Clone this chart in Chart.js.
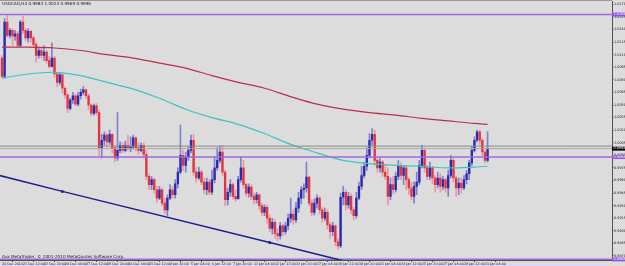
<!DOCTYPE html>
<html>
<head>
<meta charset="utf-8">
<script src="https://cdn.jsdelivr.net/npm/chart.js@4.4.0/dist/chart.umd.min.js"></script>
<style>
  html, body { margin: 0; padding: 0; background: #dcdcdc; overflow: hidden; }
  #wrap { width: 625px; height: 266px; }
</style>
</head>
<body>
<div id="wrap"><canvas id="chart" width="625" height="266"></canvas></div>
<script>
// USDCAD H4, one entry per bar (bar 0 = 20 Dec 2010)
const firstOpen = 1.0106;
const closes = [
  1.0084,1.0149,1.0133,1.0139,1.0132,1.0135,1.0121,1.0149,1.0139,1.0130,
  1.0138,1.0130,1.0122,1.0109,1.0115,1.0109,1.0113,1.0103,1.0096,1.0106,
  1.0087,1.0077,1.0086,1.0070,1.0062,1.0046,1.0056,1.0061,1.0051,1.0061,
  1.0065,1.0068,1.0061,1.0050,1.0040,1.0049,1.0041,0.9999,1.0008,1.0014,
  1.0006,1.0015,0.9999,0.9987,0.9996,1.0002,0.9996,1.0002,0.9999,1.0000,
  1.0011,0.9999,0.9996,1.0002,0.9991,0.9965,0.9955,0.9961,0.9949,0.9939,
  0.9949,0.9933,0.9925,0.9939,0.9949,0.9943,0.9956,0.9970,0.9990,0.9978,
  0.9988,0.9996,1.0008,0.9970,0.9963,0.9970,0.9958,0.9949,0.9958,0.9946,
  0.9961,0.9975,0.9984,0.9994,0.9970,0.9937,0.9946,0.9955,0.9941,0.9938,
  0.9961,0.9975,0.9955,0.9945,0.9952,0.9941,0.9937,0.9943,0.9930,0.9922,
  0.9928,0.9915,0.9903,0.9910,0.9897,0.9894,0.9906,0.9899,0.9906,0.9915,
  0.9920,0.9913,0.9927,0.9939,0.9949,0.9951,0.9964,0.9933,0.9922,0.9933,
  0.9939,0.9925,0.9915,0.9922,0.9907,0.9899,0.9906,0.9887,0.9882,0.9940,
  0.9946,0.9931,0.9941,0.9925,0.9918,0.9939,0.9953,0.9966,0.9977,0.9990,
  1.0008,1.0015,0.9984,0.9975,0.9982,0.9970,0.9965,0.9941,0.9955,0.9949,
  0.9965,0.9977,0.9966,0.9975,0.9961,0.9951,0.9941,0.9953,0.9958,0.9978,
  0.9996,0.9975,0.9965,0.9975,0.9963,0.9955,0.9963,0.9953,0.9961,0.9951,
  0.9966,0.9984,0.9963,0.9951,0.9957,0.9951,0.9961,0.9968,0.9981,0.9996,
  1.0008,1.0018,1.0008,0.9994,0.9984,0.9998
];
const highs = [
  1.0109,1.0153,1.0157,1.0141,1.0141,1.0139,1.0138,1.0151,1.0156,1.0141,
  1.0141,1.0139,1.0132,1.0125,1.0119,1.0118,1.0121,1.0115,1.0108,1.0124,
  1.0108,1.0089,1.0089,1.0087,1.0072,1.0063,1.0058,1.0065,1.0063,1.0065,
  1.0069,1.0072,1.0069,1.0063,1.0051,1.0051,1.0052,1.0044,1.0015,1.0018,
  1.0016,1.0020,1.0016,1.0001,1.0041,1.0006,1.0005,1.0007,1.0014,1.0012,
  1.0014,1.0012,1.0005,1.0005,1.0005,0.9996,0.9968,0.9965,0.9963,0.9953,
  0.9953,0.9951,0.9939,0.9943,0.9955,0.9953,0.9961,0.9975,1.0026,0.9996,
  0.9994,1.0000,1.0014,1.0015,0.9975,0.9976,0.9972,0.9963,0.9963,0.9961,
  0.9972,0.9988,0.9999,1.0001,1.0002,0.9972,0.9951,0.9961,0.9957,0.9949,
  0.9965,0.9988,0.9984,0.9957,0.9956,0.9955,0.9945,0.9946,0.9944,0.9933,
  0.9931,0.9931,0.9919,0.9915,0.9913,0.9903,0.9910,0.9908,0.9910,0.9920,
  0.9939,0.9925,0.9934,0.9946,0.9953,0.9956,0.9982,0.9965,0.9937,0.9938,
  0.9943,0.9941,0.9928,0.9927,0.9925,0.9910,0.9910,0.9907,0.9891,0.9945,
  0.9953,0.9949,0.9946,0.9944,0.9928,0.9946,0.9958,0.9977,0.9982,0.9999,
  1.0016,1.0022,1.0020,0.9987,0.9987,0.9984,0.9978,0.9975,0.9963,0.9965,
  0.9970,0.9984,0.9981,0.9978,0.9977,0.9963,0.9958,0.9958,0.9970,0.9984,
  1.0002,0.9999,0.9978,0.9982,0.9977,0.9966,0.9970,0.9968,0.9965,0.9963,
  0.9972,0.9990,0.9987,0.9965,0.9963,0.9963,0.9966,0.9972,0.9984,1.0001,
  1.0012,1.0020,1.0020,1.0010,0.9996,1.0018
];
const lows = [
  1.0082,1.0082,1.0131,1.0130,1.0121,1.0127,1.0118,1.0119,1.0135,1.0127,
  1.0125,1.0125,1.0119,1.0101,1.0106,1.0106,1.0103,1.0100,1.0094,1.0095,
  1.0083,1.0072,1.0074,1.0064,1.0058,1.0041,1.0044,1.0052,1.0049,1.0049,
  1.0057,1.0062,1.0058,1.0044,1.0037,1.0038,1.0038,0.9990,0.9987,1.0002,
  1.0000,1.0003,0.9993,0.9982,0.9984,0.9993,0.9993,0.9994,0.9996,0.9994,
  0.9997,0.9995,0.9991,0.9994,0.9987,0.9961,0.9949,0.9949,0.9945,0.9934,
  0.9937,0.9930,0.9920,0.9918,0.9937,0.9939,0.9939,0.9951,0.9968,0.9972,
  0.9970,0.9984,0.9993,0.9966,0.9958,0.9961,0.9955,0.9944,0.9943,0.9943,
  0.9943,0.9957,0.9972,0.9981,0.9966,0.9930,0.9931,0.9941,0.9938,0.9935,
  0.9941,0.9958,0.9951,0.9941,0.9940,0.9937,0.9932,0.9933,0.9925,0.9918,
  0.9918,0.9909,0.9899,0.9896,0.9891,0.9888,0.9890,0.9894,0.9896,0.9901,
  0.9910,0.9908,0.9910,0.9922,0.9932,0.9939,0.9946,0.9930,0.9918,0.9919,
  0.9927,0.9920,0.9910,0.9912,0.9902,0.9891,0.9894,0.9882,0.9878,0.9880,
  0.9931,0.9925,0.9927,0.9920,0.9913,0.9915,0.9937,0.9949,0.9963,0.9972,
  0.9987,1.0002,0.9978,0.9970,0.9970,0.9965,0.9961,0.9931,0.9937,0.9944,
  0.9946,0.9961,0.9961,0.9955,0.9949,0.9943,0.9937,0.9933,0.9943,0.9955,
  0.9975,0.9970,0.9961,0.9961,0.9956,0.9946,0.9951,0.9946,0.9949,0.9946,
  0.9941,0.9963,0.9958,0.9941,0.9943,0.9945,0.9949,0.9956,0.9961,0.9978,
  0.9994,1.0006,1.0003,0.9989,0.9981,0.9982
];

// moving averages read at every 10th bar
const maRedBars  = [0, 10, 20, 30, 40, 50, 60, 70, 80, 90, 100, 110, 120, 130, 140, 150, 160, 170, 180, 185];
const maRedVals  = [1.0119,1.0119,1.0118,1.0115,1.0110,1.0106,1.0100,1.0094,1.0085,1.0077,
                    1.0070,1.0060,1.0051,1.0045,1.0041,1.0038,1.0034,1.0031,1.0028,1.0027];
const maCyanBars = [0, 10, 20, 30, 40, 50, 60, 70, 80, 90, 100, 110, 120, 130, 140, 150, 160, 170, 180, 185];
const maCyanVals = [1.0082,1.0087,1.0089,1.0085,1.0077,1.0069,1.0058,1.0045,1.0035,1.0027,
                    1.0016,1.0003,0.9993,0.9984,0.9980,0.9978,0.9977,0.9975,0.9976,0.9977];

// trend line: ends and the two anchor points
const trendBars = [-1, 23, 102, 133];
const trendVals = [0.9966, 0.9947, 0.9886, 0.9862];

const purpleLevels = [1.0158, 0.9988, 0.9866];
const grayLevels = [1.0001, 0.9998];
const bidPrice = 0.9998;

const priceTicks = [1.0170,1.0155,1.0140,1.0125,1.0110,1.0095,1.0080,1.0065,1.0050,1.0035,
                    1.0020,1.0005,0.9990,0.9975,0.9960,0.9945,0.9930,0.9915,0.9900,0.9885,0.9870];
const labelBars = [0,8,16,24,32,40,48,56,64,72,80,88,96,104,112,120,128,136,144,152,160,168,176,184];
const dateLabels = ['20 Dec 2010','21 Dec 12:00','22 Dec 20:00','24 Dec 04:00','27 Dec 12:00','28 Dec 20:00',
  '30 Dec 04:00','31 Dec 12:00','3 Jan 20:00','5 Jan 04:00','6 Jan 12:00','7 Jan 20:00','11 Jan 04:00',
  '12 Jan 12:00','13 Jan 20:00','17 Jan 04:00','18 Jan 12:00','19 Jan 20:00','21 Jan 04:00','24 Jan 12:00',
  '25 Jan 20:00','27 Jan 04:00','28 Jan 12:00','31 Jan 04:00'];
const headerText = 'USDCAD,H4 0.9983 1.0023 0.9969 0.9996';
const copyText = 'Ava MetaTrader, \u00a9 2001-2010 MetaQuotes Software Corp.';

const X_MIN = -0.76, X_MAX = 232.4;
const Y_MIN = 0.98652, Y_MAX = 1.01736;

const opens = closes.map((c, i) => i === 0 ? firstOpen : closes[i - 1]);
const isUp = closes.map((c, i) => c >= opens[i]);
const bodyColors = isUp.map(u => u ? '#2a2ab0' : '#e23440');
const wickColors = isUp.map(u => u ? '#8080cc' : '#ec98a0');

const bodies = closes.map((c, i) => ({x: i, y: [opens[i], c]}));
const wicks = closes.map((c, i) => ({x: i, y: [lows[i], highs[i]]}));

function hline(v, color, width, order) {
  return {type: 'line', data: [{x: X_MIN, y: v}, {x: X_MAX, y: v}], borderColor: color,
    borderWidth: width, pointRadius: 0, order: order};
}

const overlay = {
  id: 'overlay',
  afterDraw(chart) {
    const ctx = chart.ctx;
    const ys = chart.scales.y;
    const area = chart.chartArea;
    ctx.save();
    ctx.strokeStyle = '#9a9a9a';
    ctx.beginPath();
    ctx.moveTo(0, 0.5);
    ctx.lineTo(area.right, 0.5);
    ctx.stroke();
    ctx.font = '4.2px "DejaVu Sans"';
    ctx.textBaseline = 'middle';
    ctx.fillStyle = '#202020';
    ctx.fillText(headerText, 2, 4);
    ctx.fillText(copyText, 2, 257);
    ctx.font = '3.4px "DejaVu Sans"';
    purpleLevels.forEach(v => {
      const y = ys.getPixelForValue(v);
      ctx.fillStyle = '#9850d8';
      ctx.fillRect(area.right, y - 2, 13, 4);
      ctx.fillStyle = '#ffffff';
      ctx.fillText(v.toFixed(4), area.right + 1.5, y);
    });
    const yb = ys.getPixelForValue(bidPrice);
    ctx.fillStyle = '#000000';
    ctx.fillRect(area.right, yb - 2, 13, 4);
    ctx.fillStyle = '#ffffff';
    ctx.fillText(bidPrice.toFixed(4), area.right + 1.5, yb);
    ctx.restore();
  }
};

new Chart(document.getElementById('chart'), {
  type: 'bar',
  data: {
    datasets: [
      {data: wicks, backgroundColor: wickColors, barThickness: 1, grouped: false, order: 5, borderWidth: 0},
      {data: bodies, backgroundColor: bodyColors, barThickness: 1.7, minBarLength: 1, grouped: false, order: 4, borderWidth: 0},
      {type: 'line', data: maRedBars.map((b, i) => ({x: b, y: maRedVals[i]})), borderColor: '#b8304a',
        borderWidth: 1.2, pointRadius: 0, tension: 0.3, order: 3},
      {type: 'line', data: maCyanBars.map((b, i) => ({x: b, y: maCyanVals[i]})), borderColor: '#3cc4c4',
        borderWidth: 1.2, pointRadius: 0, tension: 0.3, order: 3},
      hline(purpleLevels[0], '#9c6ae0', 1.5, 2),
      hline(purpleLevels[1], '#9c6ae0', 1.5, 2),
      hline(purpleLevels[2], '#9c6ae0', 1.5, 2),
      hline(grayLevels[0], '#8a8a8a', 1, 2),
      hline(grayLevels[1], '#a8a8a8', 1, 2),
      {type: 'line', data: trendBars.map((b, i) => ({x: b, y: trendVals[i]})), borderColor: '#1e1e8c',
        borderWidth: 1.5, pointRadius: [0, 1.5, 1.5, 0], pointBackgroundColor: '#1e1e8c', pointBorderWidth: 0, order: 1}
    ]
  },
  options: {
    responsive: false,
    animation: false,
    layout: {padding: {top: 1, left: 0, right: 0, bottom: 0}},
    plugins: {legend: {display: false}, tooltip: {enabled: false}},
    scales: {
      x: {
        type: 'linear', min: X_MIN, max: X_MAX, offset: false,
        afterBuildTicks: s => { s.ticks = labelBars.map(v => ({value: v})); },
        afterFit: s => { s.height = 6; },
        ticks: {
          callback: v => dateLabels[labelBars.indexOf(v)],
          align: 'start', autoSkip: false, maxRotation: 0, padding: 0,
          font: {size: 3.3, family: 'DejaVu Sans'}, color: '#202020'
        },
        grid: {drawOnChartArea: false, tickLength: 2, color: '#505050'},
        border: {color: '#505050'}
      },
      y: {
        position: 'right', min: Y_MIN, max: Y_MAX,
        afterBuildTicks: s => { s.ticks = priceTicks.map(v => ({value: v})); },
        afterFit: s => { s.width = 13; },
        ticks: {
          callback: v => v.toFixed(4), autoSkip: false, padding: 0.5,
          font: {size: 3.4, family: 'DejaVu Sans', lineHeight: 0.5}, color: '#202020'
        },
        grid: {drawOnChartArea: false, tickLength: 1.5, color: '#505050'},
        border: {color: '#505050'}
      }
    }
  },
  plugins: [overlay]
});
</script>
</body>
</html>
